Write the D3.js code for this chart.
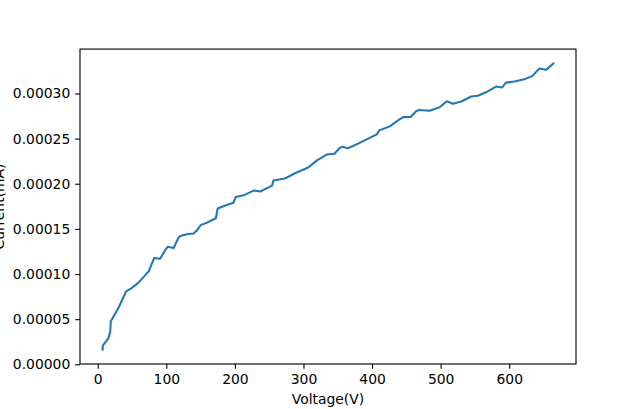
<!DOCTYPE html>
<html>
<head>
<meta charset="utf-8">
<script src="https://cdn.jsdelivr.net/npm/d3@7"></script>
<style>
  html, body { margin: 0; padding: 0; background: #fff; }
  svg { display: block; }
  text { font-family: "DejaVu Sans", sans-serif; }
</style>
</head>
<body>
<svg id="chart" width="640" height="409"></svg>
<script>
// Data
const voltage = [7.0, 7.5, 15.3, 18.2, 19.0, 30.7, 41.4, 47.7, 59.8, 74.3, 82.2, 90.9, 99.6, 101.9,
  110.7, 117.5, 120.4, 130.1, 139.7, 145.1, 150.5, 159.2, 172.3, 174.9, 185.8, 197.9, 201.1, 212.4,
  228.0, 236.7, 254.2, 256.1, 273.1, 287.6, 307.0, 319.2, 333.7, 345.1, 353.1, 357.0, 364.7, 379.7,
  394.2, 406.9, 410.5, 425.8, 437.8, 445.1, 456.3, 464.6, 469.4, 483.9, 498.5, 509.1, 517.8, 530.0,
  544.6, 554.2, 566.8, 580.9, 589.4, 595.2, 607.5, 622.1, 634.1, 643.9, 653.6, 664.5];
const current = [0.00001617, 0.00002094, 0.00002838, 0.00003562, 0.00004773, 0.00006321, 0.00008077,
  0.00008345, 0.00009070, 0.00010290, 0.00011769, 0.00011689, 0.00012791, 0.00013009, 0.00012870,
  0.00014001, 0.00014220, 0.00014408, 0.00014478, 0.00014885, 0.00015440, 0.00015688, 0.00016174,
  0.00017256, 0.00017584, 0.00017891, 0.00018526, 0.00018715, 0.00019261, 0.00019132, 0.00019786,
  0.00020362, 0.00020580, 0.00021166, 0.00021801, 0.00022565, 0.00023230, 0.00023319, 0.00023984,
  0.00024093, 0.00023924, 0.00024440, 0.00024996, 0.00025472, 0.00025909, 0.00026355, 0.00027010,
  0.00027378, 0.00027397, 0.00028062, 0.00028171, 0.00028082, 0.00028479, 0.00029134, 0.00028856,
  0.00029104, 0.00029660, 0.00029739, 0.00030156, 0.00030761, 0.00030652, 0.00031198, 0.00031317,
  0.00031565, 0.00031952, 0.00032776, 0.00032617, 0.00033331];
const xTicks = [0, 100, 200, 300, 400, 500, 600];
const yTicks = [0, 0.00005, 0.0001, 0.00015, 0.0002, 0.00025, 0.0003];
const xLabel = "Voltage(V)";
const yLabel = "Current(mA)";

(function () {
const data = voltage.map((v, i) => ({ v, c: current[i] }));

const W = 640, H = 409;
const mLeft = 80, mRight = 576, mTop = 49.08, mBottom = 364;
const fs = 13.9;
const tickLen = 4.86, tickPad = 4.86;

function padded(ext) {
  const d = ext[1] - ext[0];
  return [ext[0] - 0.05 * d, ext[1] + 0.05 * d];
}

const x = d3.scaleLinear().domain(padded(d3.extent(voltage))).range([mLeft, mRight]);
const y = d3.scaleLinear().domain(padded(d3.extent(current))).range([mBottom, mTop]);

const svg = d3.select("#chart");
svg.append("rect").attr("width", W).attr("height", H).attr("fill", "#fff");

// line
const line = d3.line().x(d => x(d.v)).y(d => y(d.c));
svg.append("path").datum(data)
  .attr("d", line)
  .attr("fill", "none")
  .attr("stroke", "#1f77b4")
  .attr("stroke-width", 2.08)
  .attr("stroke-linejoin", "round")
  .attr("stroke-linecap", "square");

// axes
const xAxis = d3.axisBottom(x).tickValues(xTicks).tickFormat(d3.format("d"))
  .tickSizeInner(tickLen).tickSizeOuter(0).tickPadding(tickPad);
const yAxis = d3.axisLeft(y).tickValues(yTicks).tickFormat(d3.format(".5f"))
  .tickSizeInner(tickLen).tickSizeOuter(0).tickPadding(tickPad);

const gx = svg.append("g").attr("transform", `translate(0,${mBottom})`).call(xAxis);
const gy = svg.append("g").attr("transform", `translate(${mLeft},0)`).call(yAxis);
[gx, gy].forEach(g => {
  g.select(".domain").remove();
  g.selectAll(".tick line").attr("stroke", "#000").attr("stroke-width", 1.11);
  g.selectAll(".tick text").attr("fill", "#000").attr("font-size", fs)
    .attr("font-family", "DejaVu Sans");
});

// frame
svg.append("rect")
  .attr("x", mLeft).attr("y", mTop)
  .attr("width", mRight - mLeft).attr("height", mBottom - mTop)
  .attr("fill", "none").attr("stroke", "#000").attr("stroke-width", 1.11);

// labels
svg.append("text")
  .attr("x", (mLeft + mRight) / 2).attr("y", 404)
  .attr("text-anchor", "middle").attr("font-size", fs).attr("fill", "#000")
  .text(xLabel);
svg.append("text")
  .attr("transform", `translate(4,${(mTop + mBottom) / 2}) rotate(-90)`)
  .attr("text-anchor", "middle").attr("font-size", fs).attr("fill", "#000")
  .text(yLabel);
})();
</script>
</body>
</html>
